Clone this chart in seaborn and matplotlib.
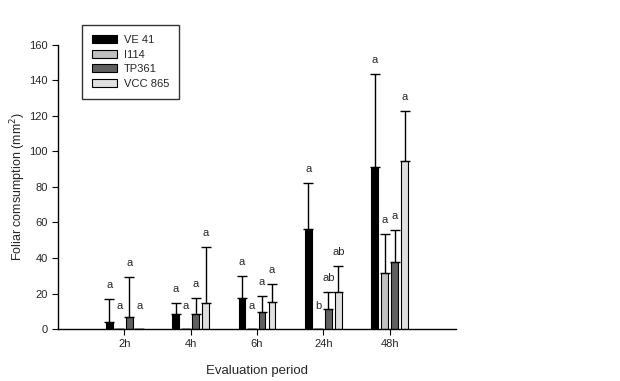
import numpy as np
import pandas as pd
import matplotlib
matplotlib.use('Agg')
import matplotlib.pyplot as plt
import seaborn as sns

periods = ['2h', '4h', '6h', '24h', '48h']
genotypes = ['VE 41', 'I114', 'TP361', 'VCC 865']

# means and standard deviations (mm2)
mean_ve41 = [3.8, 8.5, 17.3, 56.2, 91.0]
mean_i114 = [0, 0, 0, 0, 31.4]
mean_tp361 = [6.6, 8.5, 9.4, 11.1, 37.6]
mean_vcc865 = [0, 14.5, 15.0, 20.7, 94.6]

sd_ve41 = [13.2, 6.0, 12.7, 25.8, 52.7]
sd_i114 = [0, 0, 0, 0, 21.9]
sd_tp361 = [22.5, 8.8, 9.4, 9.6, 18.2]
sd_vcc865 = [0, 31.5, 10.2, 14.8, 28.2]

letters_ve41 = ['a', 'a', 'a', 'a', 'a']
letters_i114 = ['a', 'a', 'a', 'b', 'a']
letters_tp361 = ['a', 'a', 'a', 'ab', 'a']
letters_vcc865 = ['a', 'a', 'a', 'ab', 'a']

colors = ['#000000', '#c0c0c0', '#606060', '#e0e0e0']

means = [mean_ve41, mean_i114, mean_tp361, mean_vcc865]
sds = [sd_ve41, sd_i114, sd_tp361, sd_vcc865]
letters = [letters_ve41, letters_i114, letters_tp361, letters_vcc865]

rows = []
for g, m in zip(genotypes, means):
    for p, v in zip(periods, m):
        rows.append({'period': p, 'genotype': g, 'value': v})
df = pd.DataFrame(rows)

sns.set_style('ticks')
plt.rcParams['font.family'] = ['Liberation Sans', 'DejaVu Sans']

fig = plt.figure(figsize=(6.2, 3.81), dpi=100)
ax = fig.add_axes([58 / 620, 1 - 329 / 381, 398 / 620, 284 / 381])

sns.barplot(data=df, x='period', y='value', hue='genotype', order=periods,
            hue_order=genotypes, palette=colors, width=0.6, gap=0.33,
            edgecolor='black', linewidth=0.8, errorbar=None, ax=ax,
            legend=False)

for cont, sd, lab in zip(ax.containers, sds, letters):
    xs = [b.get_x() + b.get_width() / 2 for b in cont]
    ys = [b.get_height() for b in cont]
    ax.errorbar(xs, ys, yerr=[np.zeros(len(sd)), sd], fmt='none',
                ecolor='black', elinewidth=1, capsize=3.5, capthick=1)
    for x, y, s, t in zip(xs, ys, sd, lab):
        top = y + s
        off = 6.5 if top > 0 else 13
        ax.annotate(t, (x, top), xytext=(0, off), textcoords='offset points',
                    ha='center', va='bottom', fontsize=8)

ax.set_xlim(-1, 5)
ax.set_ylim(0, 160)
ax.set_yticks(range(0, 161, 20))
ax.tick_params(labelsize=8, length=4, width=0.8, color='black')
ax.set_xlabel('Evaluation period', fontsize=9.5, labelpad=11)
ax.set_ylabel('Foliar comsumption (mm$^2$)', fontsize=9, labelpad=1)
for s in ['left', 'bottom']:
    ax.spines[s].set_color('black')
    ax.spines[s].set_linewidth(1)
sns.despine(ax=ax)

handles = [plt.Rectangle((0, 0), 1, 1, facecolor=c, edgecolor='black', linewidth=0.8)
           for c in colors]
leg = fig.legend(handles, genotypes, loc='upper left',
                 bbox_to_anchor=(82 / 620, 1 - 25 / 381), fontsize=8,
                 frameon=True, fancybox=False, handlelength=2.25,
                 handleheight=0.72, handletextpad=0.6, labelspacing=0.42,
                 borderpad=0.9, borderaxespad=0)
leg.get_frame().set_edgecolor('black')
leg.get_frame().set_linewidth(1)

fig.savefig('out.png', dpi=100)
